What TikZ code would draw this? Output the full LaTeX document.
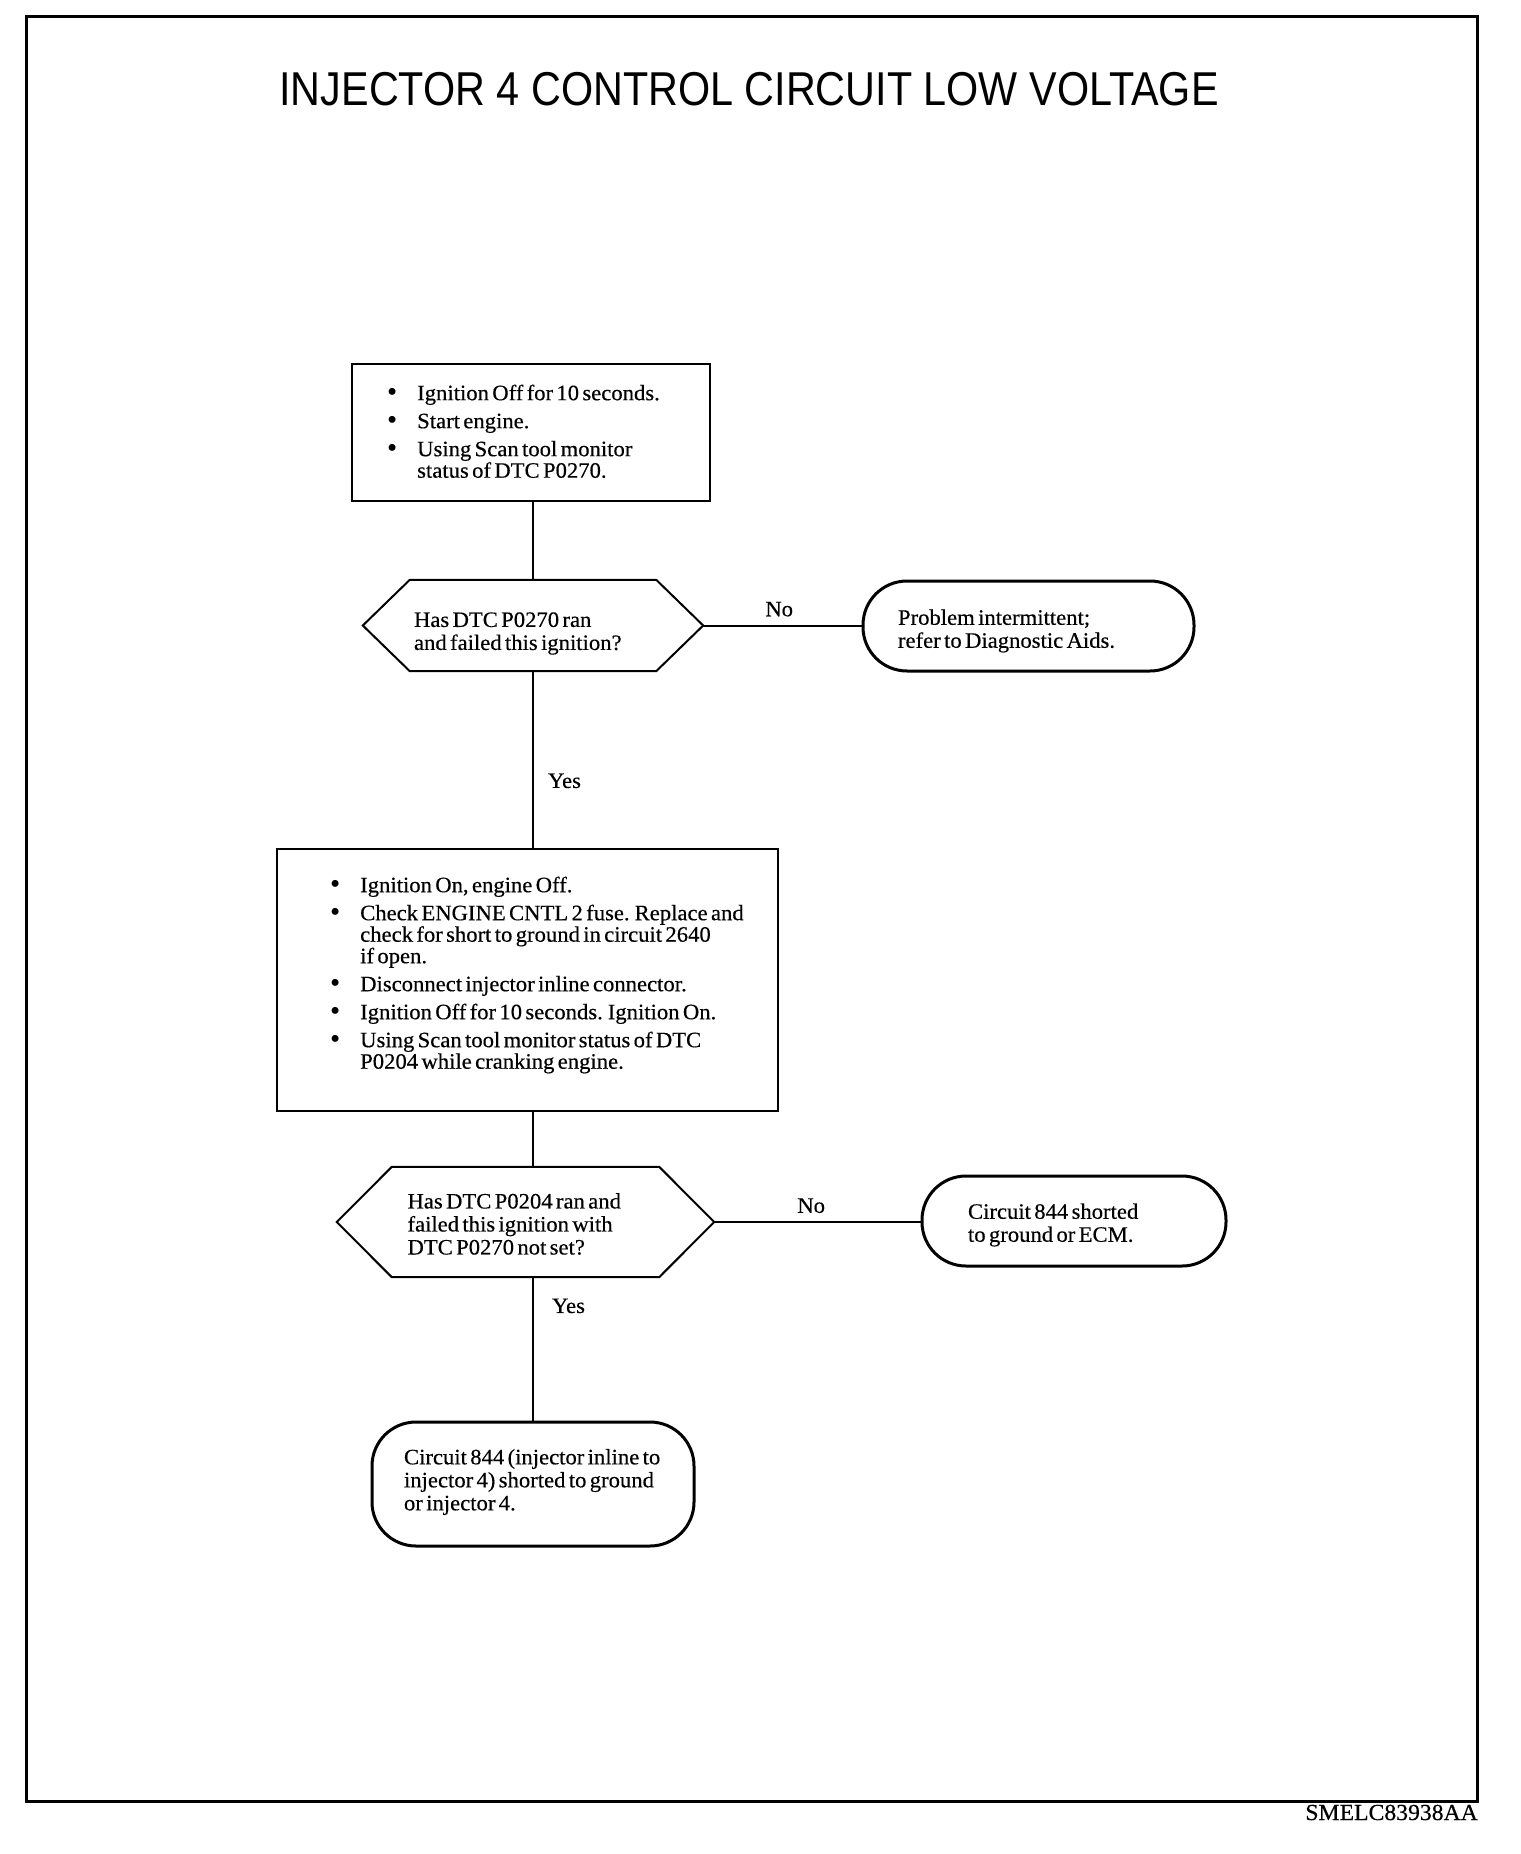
\documentclass[tikz,border=0pt]{standalone}
\usepackage{fontspec}
\setmainfont[FakeStretch=1.03,FakeBold=0.4]{Liberation Serif}
\newfontfamily\titlefont[FakeStretch=0.87]{Liberation Sans}
\newfontfamily\plainserif{Liberation Serif}
\usetikzlibrary{calc}
\newcommand{\txtfont}{\fontsize{22}{23}\selectfont}
\newcommand{\bigbul}{\smash{\raisebox{-1pt}{\plainserif\fontsize{29}{29}\selectfont\textbullet}}}
\newcommand{\bitem}[1]{\par\hangindent=30pt\hangafter=1\noindent\makebox[30pt][l]{\bigbul}#1}
\newcommand{\listsetup}{\raggedright\parindent=0pt\parskip=6.5pt\fontsize{22}{21.5}\selectfont}
\newcommand{\plainsetup}{\raggedright\parindent=0pt\txtfont}
\begin{document}
\begin{tikzpicture}[x=1pt,y=-1pt,
  every node/.style={inner sep=0pt},
  ln/.style={line width=2pt},
  boxst/.style={draw, line width=2pt, rectangle},
  term/.style={draw, line width=3pt, rectangle, rounded corners=44pt},
  listtxt/.style={anchor=north west},
  lbl/.style={font=\txtfont, inner sep=3pt}]
\useasboundingbox (0,0) rectangle (1520,1854);
\draw[line width=3pt] (26,16.5) rectangle (1477,1801);
\node[font=\titlefont\fontsize{47.5}{50}\selectfont, anchor=base] (title) at (749,106) {INJECTOR 4 CONTROL CIRCUIT LOW VOLTAGE};
\node[font=\fontsize{23}{23}\selectfont, anchor=base east] (code) at (1478,1820) {SMELC83938AA};

% box 1
\node[boxst, minimum width=358pt, minimum height=137pt] (b1) at (531,432.5) {};
\node[listtxt, text width=300pt] (b1t) at (387,372) {\listsetup
  \bitem{Ignition Off for 10 seconds.}
  \bitem{Start engine.}
  \bitem{Using Scan tool monitor\newline status of DTC P0270.}\par};

% hexagon 1
\node[minimum width=340pt, minimum height=91pt] (d1) at (533,625.5) {};
\draw[ln] (d1.west) -- ($(d1.north west)+(47,0)$) -- ($(d1.north east)+(-47,0)$) -- (d1.east) -- ($(d1.south east)+(-47,0)$) -- ($(d1.south west)+(47,0)$) -- cycle;
\node[text width=238pt] (d1t) at ($(d1.center)+(0,8)$) {\plainsetup Has DTC P0270 ran\newline and failed this ignition?\par};

% terminal 1
\node[term, minimum width=331pt, minimum height=90pt] (t1) at (1028.5,626) {};
\node[text width=261pt] (t1t) at ($(t1.center)+(0,5)$) {\plainsetup Problem intermittent;\newline refer to Diagnostic Aids.\par};

% box 2
\node[boxst, minimum width=501pt, minimum height=262pt] (b2) at (527.5,980) {};
\node[listtxt, text width=440pt] (b2t) at (330,864) {\listsetup
  \bitem{Ignition On, engine Off.}
  \bitem{Check ENGINE CNTL 2 fuse. Replace and\newline check for short to ground in circuit 2640\newline if open.}
  \bitem{Disconnect injector inline connector.}
  \bitem{Ignition Off for 10 seconds. Ignition On.}
  \bitem{Using Scan tool monitor status of DTC\newline P0204 while cranking engine.}\par};

% hexagon 2
\node[minimum width=377pt, minimum height=110pt] (d2) at (525.5,1222) {};
\draw[ln] (d2.west) -- ($(d2.north west)+(55,0)$) -- ($(d2.north east)+(-55,0)$) -- (d2.east) -- ($(d2.south east)+(-55,0)$) -- ($(d2.south west)+(55,0)$) -- cycle;
\node[text width=236pt] (d2t) at ($(d2.center)+(0,2)$) {\plainsetup Has DTC P0204 ran and\newline failed this ignition with\newline DTC P0270 not set?\par};

% terminal 2
\node[term, minimum width=304pt, minimum height=90pt] (t2) at (1074,1221) {};
\node[text width=212pt] (t2t) at ($(t2.center)+(0,4)$) {\plainsetup Circuit 844 shorted\newline to ground or ECM.\par};

% terminal 3
\node[term, minimum width=322pt, minimum height=124pt] (t3) at (533,1484) {};
\node[text width=272pt] (t3t) at ($(t3.center)+(0,-2)$) {\plainsetup\leftskip=7pt Circuit 844 (injector inline to\newline injector 4) shorted to ground\newline or injector 4.\par};

% connectors
\draw[ln] (b1.south -| d1.south) -- (d1.north);
\draw[ln] (d1.east) -- node[lbl, above=5pt, pos=0.48] (no1) {No} (d1.east -| t1.west);
\draw[ln] (d1.south) -- node[lbl, right=11pt, pos=0.62] (yes1) {Yes} (d1.south |- b2.north);
\draw[ln] (b2.south -| d1.south) -- (d1.south |- d2.north);
\draw[ln] (d2.east) -- node[lbl, above=5pt, pos=0.47] (no2) {No} (d2.east -| t2.west);
\draw[ln] (d1.south |- d2.south) -- node[lbl, right=15pt, pos=0.2] (yes2) {Yes} (d1.south |- t3.north);
\end{tikzpicture}
\end{document}
